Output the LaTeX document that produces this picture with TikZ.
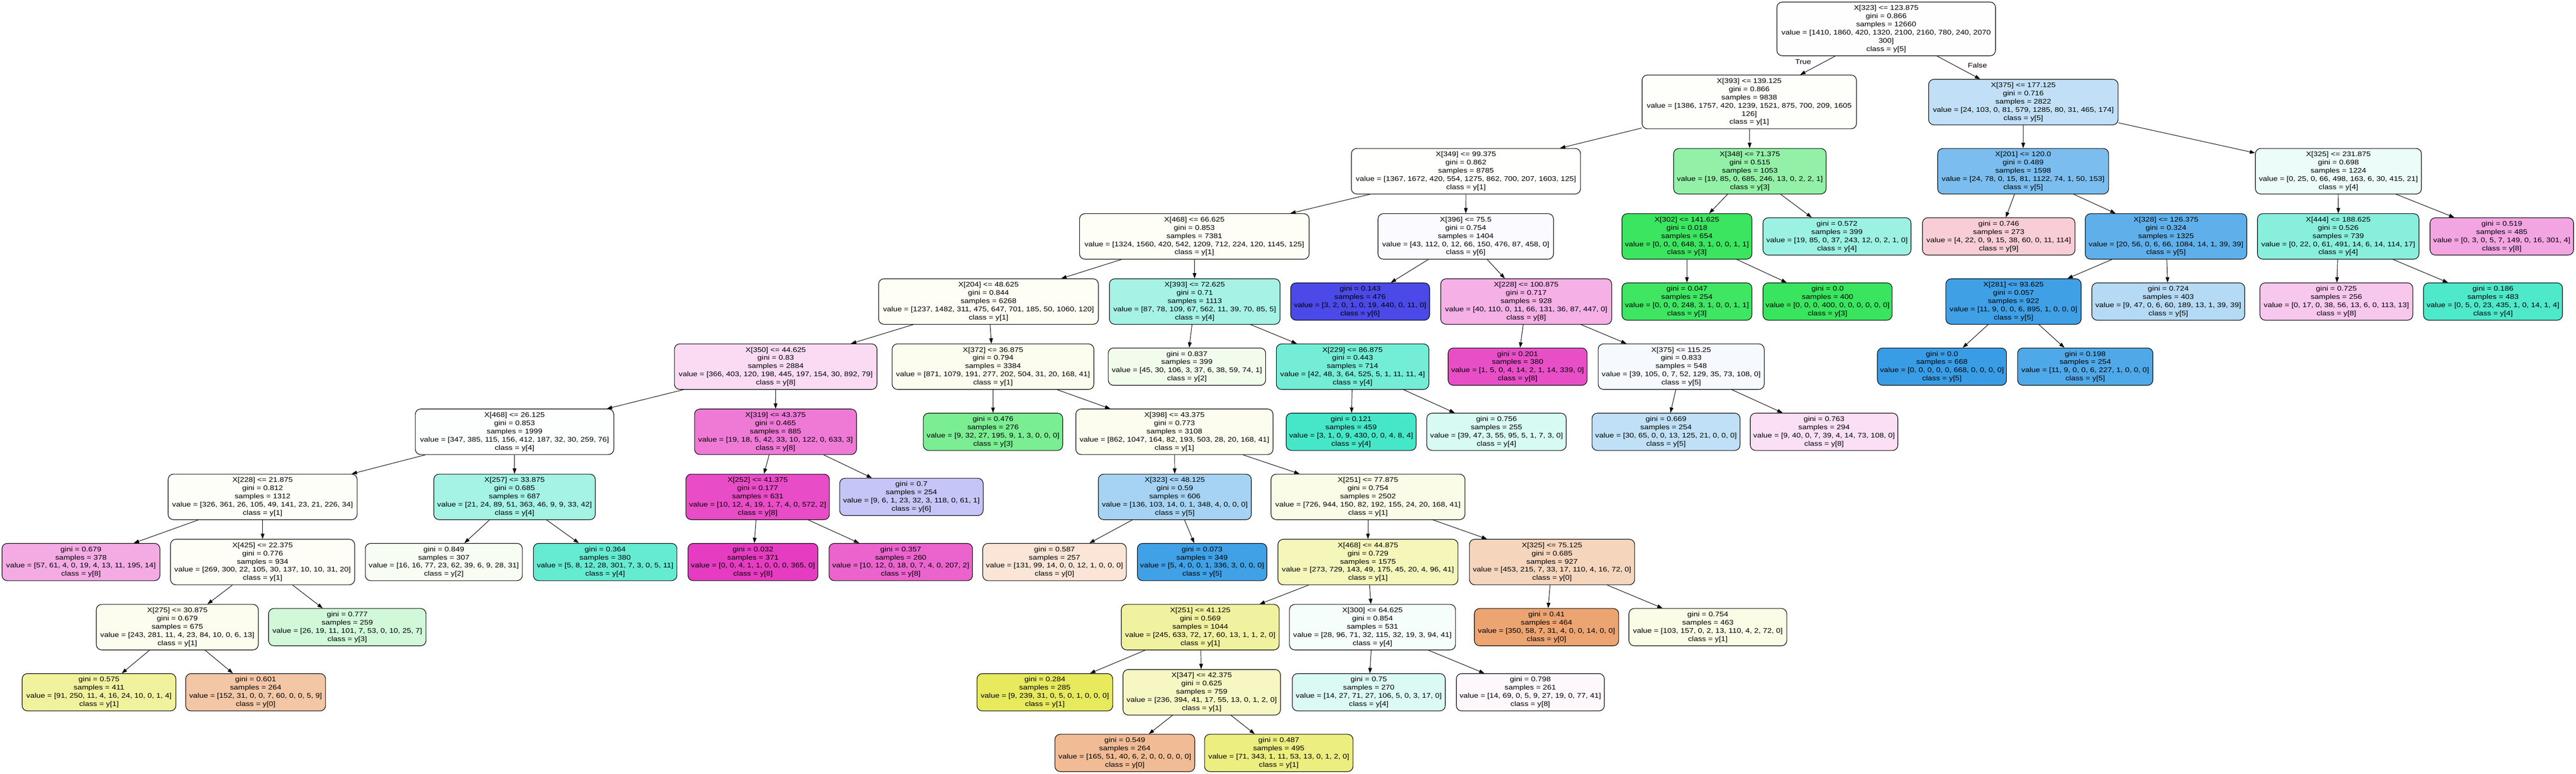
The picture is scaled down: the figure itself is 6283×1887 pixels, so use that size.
\documentclass[tikz,border=0pt]{standalone}
\usepackage{fontspec}
\setmainfont{Liberation Sans}[FakeStretch=1.17]
\usetikzlibrary{arrows.meta}
\definecolor{c0}{RGB}{229,129,57}
\definecolor{c1}{RGB}{226,229,57}
\definecolor{c2}{RGB}{123,229,57}
\definecolor{c3}{RGB}{57,229,94}
\definecolor{c4}{RGB}{57,229,197}
\definecolor{c5}{RGB}{57,157,229}
\definecolor{c6}{RGB}{60,57,229}
\definecolor{c7}{RGB}{163,57,229}
\definecolor{c8}{RGB}{229,57,192}
\definecolor{c9}{RGB}{229,57,88}
\newcommand\nodefont{\fontsize{16.4pt}{20pt}\selectfont}
\tikzset{
  box/.style={draw=black, line width=1.4pt, rounded corners=13pt, inner sep=0pt, align=center, font=\nodefont, text=black},
  intn/.style={minimum height=111pt},
  leafn/.style={minimum height=91pt},
  bign/.style={minimum height=131pt},
  cl/.style n args={4}{/utils/exec={\pgfmathsetmacro\mixp{100*((#2-#3)/(#4-#3))}\colorlet{tmpfill}{c#1!\mixp!white}}, fill=tmpfill},
  conn/.style={draw=black, line width=1.2pt, -{Triangle[length=13pt,width=9pt]}},
  lbl/.style={font=\nodefont, text=black, inner sep=0pt}
}
\begin{document}
\begin{tikzpicture}[x=1pt,y=-1pt]
\fill[white] (0,0) rectangle (6283,1887);
\useasboundingbox (0,0) rectangle (6283,1887);
% level 0
\node[box,bign,cl={5}{2160}{2100}{12660},minimum width=533pt] (n0) at (4600.5,70.5) {X[323] <= 123.875\\gini = 0.866\\samples = 12660\\value = [1410, 1860, 420, 1320, 2100, 2160, 780, 240, 2070\\300]\\class = y[5]};
% level 1
\node[box,bign,cl={1}{1757}{1605}{9838},minimum width=523pt] (n1) at (4266.5,248.5) {X[393] <= 139.125\\gini = 0.866\\samples = 9838\\value = [1386, 1757, 420, 1239, 1521, 875, 700, 209, 1605\\126]\\class = y[1]};
\node[box,intn,cl={5}{1285}{579}{2822},minimum width=462pt] (n2) at (4935,249) {X[375] <= 177.125\\gini = 0.716\\samples = 2822\\value = [24, 103, 0, 81, 579, 1285, 80, 31, 465, 174]\\class = y[5]};
% level 2
\node[box,intn,cl={1}{1672}{1603}{8785},minimum width=559pt] (n3) at (3575.5,417.5) {X[349] <= 99.375\\gini = 0.862\\samples = 8785\\value = [1367, 1672, 420, 554, 1275, 862, 700, 207, 1603, 125]\\class = y[1]};
\node[box,intn,cl={3}{685}{246}{1053},minimum width=372pt] (n4) at (4268,417.5) {X[348] <= 71.375\\gini = 0.515\\samples = 1053\\value = [19, 85, 0, 685, 246, 13, 0, 2, 2, 1]\\class = y[3]};
\node[box,intn,cl={5}{1122}{153}{1598},minimum width=417pt] (n5) at (4934.5,417.5) {X[201] <= 120.0\\gini = 0.489\\samples = 1598\\value = [24, 78, 0, 15, 81, 1122, 74, 1, 50, 153]\\class = y[5]};
\node[box,intn,cl={4}{498}{415}{1224},minimum width=405pt] (n6) at (5703.5,417.5) {X[325] <= 231.875\\gini = 0.698\\samples = 1224\\value = [0, 25, 0, 66, 498, 163, 6, 30, 415, 21]\\class = y[4]};
% level 3
\node[box,intn,cl={1}{1560}{1324}{7381},minimum width=560pt] (n7) at (2913,576.5) {X[468] <= 66.625\\gini = 0.853\\samples = 7381\\value = [1324, 1560, 420, 542, 1209, 712, 224, 120, 1145, 125]\\class = y[1]};
\node[box,intn,cl={6}{476}{458}{1404},minimum width=428pt] (n8) at (3575,576.5) {X[396] <= 75.5\\gini = 0.754\\samples = 1404\\value = [43, 112, 0, 12, 66, 150, 476, 87, 458, 0]\\class = y[6]};
\node[box,intn,cl={3}{648}{3}{654},minimum width=317pt] (n9) at (4114.5,576.5) {X[302] <= 141.625\\gini = 0.018\\samples = 654\\value = [0, 0, 0, 648, 3, 1, 0, 0, 1, 1]\\class = y[3]};
\node[box,leafn,cl={4}{243}{85}{399},minimum width=361pt] (n10) at (4480.5,576.5) {gini = 0.572\\samples = 399\\value = [19, 85, 0, 37, 243, 12, 0, 2, 1, 0]\\class = y[4]};
\node[box,leafn,cl={9}{114}{60}{273},minimum width=372pt] (n11) at (4875,576.5) {gini = 0.746\\samples = 273\\value = [4, 22, 0, 9, 15, 38, 60, 0, 11, 114]\\class = y[9]};
\node[box,intn,cl={5}{1084}{66}{1325},minimum width=394pt] (n12) at (5283,576.5) {X[328] <= 126.375\\gini = 0.324\\samples = 1325\\value = [20, 56, 0, 6, 66, 1084, 14, 1, 39, 39]\\class = y[5]};
\node[box,intn,cl={4}{491}{114}{739},minimum width=394pt] (n13) at (5703,576.5) {X[444] <= 188.625\\gini = 0.526\\samples = 739\\value = [0, 22, 0, 61, 491, 14, 6, 14, 114, 17]\\class = y[4]};
\node[box,leafn,cl={8}{301}{149}{485},minimum width=350pt] (n14) at (6102,576.5) {gini = 0.519\\samples = 485\\value = [0, 3, 0, 5, 7, 149, 0, 16, 301, 4]\\class = y[8]};
% level 4
\node[box,intn,cl={1}{1482}{1237}{6268},minimum width=536pt] (n15) at (2411,735.3) {X[204] <= 48.625\\gini = 0.844\\samples = 6268\\value = [1237, 1482, 311, 475, 647, 701, 185, 50, 1060, 120]\\class = y[1]};
\node[box,intn,cl={4}{562}{109}{1113},minimum width=416pt] (n16) at (2914,735.3) {X[393] <= 72.625\\gini = 0.71\\samples = 1113\\value = [87, 78, 109, 67, 562, 11, 39, 70, 85, 5]\\class = y[4]};
\node[box,leafn,cl={6}{440}{19}{476},minimum width=339pt] (n17) at (3317.5,735.3) {gini = 0.143\\samples = 476\\value = [3, 2, 0, 1, 0, 19, 440, 0, 11, 0]\\class = y[6]};
\node[box,intn,cl={8}{447}{131}{928},minimum width=417pt] (n18) at (3722.5,735.3) {X[228] <= 100.875\\gini = 0.717\\samples = 928\\value = [40, 110, 0, 11, 66, 131, 36, 87, 447, 0]\\class = y[8]};
\node[box,leafn,cl={3}{248}{3}{254},minimum width=317pt] (n19) at (4114.5,735.3) {gini = 0.047\\samples = 254\\value = [0, 0, 0, 248, 3, 1, 0, 0, 1, 1]\\class = y[3]};
\node[box,leafn,cl={3}{400}{0}{400},minimum width=315pt] (n20) at (4457.5,735.3) {gini = 0.0\\samples = 400\\value = [0, 0, 0, 400, 0, 0, 0, 0, 0, 0]\\class = y[3]};
\node[box,intn,cl={5}{895}{11}{922},minimum width=330pt] (n21) at (4911,735.3) {X[281] <= 93.625\\gini = 0.057\\samples = 922\\value = [11, 9, 0, 0, 6, 895, 1, 0, 0, 0]\\class = y[5]};
\node[box,leafn,cl={5}{189}{60}{403},minimum width=373pt] (n22) at (5288.5,735.3) {gini = 0.724\\samples = 403\\value = [9, 47, 0, 6, 60, 189, 13, 1, 39, 39]\\class = y[5]};
\node[box,leafn,cl={8}{113}{56}{256},minimum width=373pt] (n23) at (5698.5,735.3) {gini = 0.725\\samples = 256\\value = [0, 17, 0, 38, 56, 13, 6, 0, 113, 13]\\class = y[8]};
\node[box,leafn,cl={4}{435}{23}{483},minimum width=339pt] (n24) at (6080.5,735.3) {gini = 0.186\\samples = 483\\value = [0, 5, 0, 23, 435, 1, 0, 14, 1, 4]\\class = y[4]};
% level 5
\node[box,intn,cl={8}{892}{445}{2884},minimum width=494pt] (n25) at (1892,894.1) {X[350] <= 44.625\\gini = 0.83\\samples = 2884\\value = [366, 403, 120, 198, 445, 197, 154, 30, 892, 79]\\class = y[8]};
\node[box,intn,cl={1}{1079}{871}{3384},minimum width=492pt] (n26) at (2422,894.1) {X[372] <= 36.875\\gini = 0.794\\samples = 3384\\value = [871, 1079, 191, 277, 202, 504, 31, 20, 168, 41]\\class = y[1]};
\node[box,leafn,cl={2}{106}{74}{399},minimum width=384pt] (n27) at (2895,894.1) {gini = 0.837\\samples = 399\\value = [45, 30, 106, 3, 37, 6, 38, 59, 74, 1]\\class = y[2]};
\node[box,intn,cl={4}{525}{64}{714},minimum width=372pt] (n28) at (3299,894.1) {X[229] <= 86.875\\gini = 0.443\\samples = 714\\value = [42, 48, 3, 64, 525, 5, 1, 11, 11, 4]\\class = y[4]};
\node[box,leafn,cl={8}{339}{14}{380},minimum width=339pt] (n29) at (3701.5,894.1) {gini = 0.201\\samples = 380\\value = [1, 5, 0, 4, 14, 2, 1, 14, 339, 0]\\class = y[8]};
\node[box,intn,cl={5}{129}{108}{548},minimum width=405pt] (n30) at (4100.5,894.1) {X[375] <= 115.25\\gini = 0.833\\samples = 548\\value = [39, 105, 0, 7, 52, 129, 35, 73, 108, 0]\\class = y[5]};
\node[box,leafn,cl={5}{668}{0}{668},minimum width=315pt] (n31) at (4736.5,894.1) {gini = 0.0\\samples = 668\\value = [0, 0, 0, 0, 0, 668, 0, 0, 0, 0]\\class = y[5]};
\node[box,leafn,cl={5}{227}{11}{254},minimum width=330pt] (n32) at (5086,894.1) {gini = 0.198\\samples = 254\\value = [11, 9, 0, 0, 6, 227, 1, 0, 0, 0]\\class = y[5]};
% level 6
\node[box,intn,cl={4}{412}{385}{1999},minimum width=484pt] (n33) at (1255,1052.9) {X[468] <= 26.125\\gini = 0.853\\samples = 1999\\value = [347, 385, 115, 156, 412, 187, 32, 30, 259, 76]\\class = y[4]};
\node[box,intn,cl={8}{633}{122}{885},minimum width=395pt] (n34) at (1891.5,1052.9) {X[319] <= 43.375\\gini = 0.465\\samples = 885\\value = [19, 18, 5, 42, 33, 10, 122, 0, 633, 3]\\class = y[8]};
\node[box,leafn,cl={3}{195}{32}{276},minimum width=340pt] (n35) at (2422,1052.9) {gini = 0.476\\samples = 276\\value = [9, 32, 27, 195, 9, 1, 3, 0, 0, 0]\\class = y[3]};
\node[box,intn,cl={1}{1047}{862}{3108},minimum width=481pt] (n36) at (2864.5,1052.9) {X[398] <= 43.375\\gini = 0.773\\samples = 3108\\value = [862, 1047, 164, 82, 193, 503, 28, 20, 168, 41]\\class = y[1]};
\node[box,leafn,cl={4}{430}{9}{459},minimum width=317pt] (n37) at (3295.5,1052.9) {gini = 0.121\\samples = 459\\value = [3, 1, 0, 9, 430, 0, 0, 4, 8, 4]\\class = y[4]};
\node[box,leafn,cl={4}{95}{55}{255},minimum width=340pt] (n38) at (3650,1052.9) {gini = 0.756\\samples = 255\\value = [39, 47, 3, 55, 95, 5, 1, 7, 3, 0]\\class = y[4]};
\node[box,leafn,cl={5}{125}{65}{254},minimum width=361pt] (n39) at (4063.5,1052.9) {gini = 0.669\\samples = 254\\value = [30, 65, 0, 0, 13, 125, 21, 0, 0, 0]\\class = y[5]};
\node[box,leafn,cl={8}{108}{73}{294},minimum width=360pt] (n40) at (4449,1052.9) {gini = 0.763\\samples = 294\\value = [9, 40, 0, 7, 39, 4, 14, 73, 108, 0]\\class = y[8]};
% level 7
\node[box,intn,cl={1}{361}{326}{1312},minimum width=461pt] (n41) at (640.5,1211.7) {X[228] <= 21.875\\gini = 0.812\\samples = 1312\\value = [326, 361, 26, 105, 49, 141, 23, 21, 226, 34]\\class = y[1]};
\node[box,intn,cl={4}{363}{89}{687},minimum width=394pt] (n42) at (1255,1211.7) {X[257] <= 33.875\\gini = 0.685\\samples = 687\\value = [21, 24, 89, 51, 363, 46, 9, 9, 33, 42]\\class = y[4]};
\node[box,intn,cl={8}{572}{19}{631},minimum width=350pt] (n43) at (1848,1211.7) {X[252] <= 41.375\\gini = 0.177\\samples = 631\\value = [10, 12, 4, 19, 1, 7, 4, 0, 572, 2]\\class = y[8]};
\node[box,leafn,cl={6}{118}{61}{254},minimum width=350pt] (n44) at (2223,1211.7) {gini = 0.7\\samples = 254\\value = [9, 6, 1, 23, 32, 3, 118, 0, 61, 1]\\class = y[6]};
\node[box,intn,cl={5}{348}{136}{606},minimum width=373pt] (n45) at (2865.5,1211.7) {X[323] <= 48.125\\gini = 0.59\\samples = 606\\value = [136, 103, 14, 0, 1, 348, 4, 0, 0, 0]\\class = y[5]};
\node[box,intn,cl={1}{944}{726}{2502},minimum width=473pt] (n46) at (3336.5,1211.7) {X[251] <= 77.875\\gini = 0.754\\samples = 2502\\value = [726, 944, 150, 82, 192, 155, 24, 20, 168, 41]\\class = y[1]};
% level 8
\node[box,leafn,cl={8}{195}{61}{378},minimum width=385pt] (n47) at (197.5,1370.5) {gini = 0.679\\samples = 378\\value = [57, 61, 4, 0, 19, 4, 13, 11, 195, 14]\\class = y[8]};
\node[box,intn,cl={1}{300}{269}{934},minimum width=449pt] (n48) at (640.5,1370.5) {X[425] <= 22.375\\gini = 0.776\\samples = 934\\value = [269, 300, 22, 105, 30, 137, 10, 10, 31, 20]\\class = y[1]};
\node[box,leafn,cl={2}{77}{62}{307},minimum width=383pt] (n49) at (1082.5,1370.5) {gini = 0.849\\samples = 307\\value = [16, 16, 77, 23, 62, 39, 6, 9, 28, 31]\\class = y[2]};
\node[box,leafn,cl={4}{301}{28}{380},minimum width=350pt] (n50) at (1476,1370.5) {gini = 0.364\\samples = 380\\value = [5, 8, 12, 28, 301, 7, 3, 0, 5, 11]\\class = y[4]};
\node[box,leafn,cl={8}{365}{4}{371},minimum width=317pt] (n51) at (1836.5,1370.5) {gini = 0.032\\samples = 371\\value = [0, 0, 4, 1, 1, 0, 0, 0, 365, 0]\\class = y[8]};
\node[box,leafn,cl={8}{207}{18}{260},minimum width=350pt] (n52) at (2197,1370.5) {gini = 0.357\\samples = 260\\value = [10, 12, 0, 18, 0, 7, 4, 0, 207, 2]\\class = y[8]};
\node[box,leafn,cl={0}{131}{99}{257},minimum width=350pt] (n53) at (2572,1370.5) {gini = 0.587\\samples = 257\\value = [131, 99, 14, 0, 0, 12, 1, 0, 0, 0]\\class = y[0]};
\node[box,leafn,cl={5}{336}{5}{349},minimum width=316pt] (n54) at (2932,1370.5) {gini = 0.073\\samples = 349\\value = [5, 4, 0, 0, 1, 336, 3, 0, 0, 0]\\class = y[5]};
\node[box,intn,cl={1}{729}{273}{1575},minimum width=439pt] (n55) at (3336.5,1370.5) {X[468] <= 44.875\\gini = 0.729\\samples = 1575\\value = [273, 729, 143, 49, 175, 45, 20, 4, 96, 41]\\class = y[1]};
\node[box,intn,cl={0}{453}{215}{927},minimum width=403pt] (n56) at (3785.5,1370.5) {X[325] <= 75.125\\gini = 0.685\\samples = 927\\value = [453, 215, 7, 33, 17, 110, 4, 16, 72, 0]\\class = y[0]};
% level 9
\node[box,intn,cl={1}{281}{243}{675},minimum width=395pt] (n57) at (432.5,1529.3) {X[275] <= 30.875\\gini = 0.679\\samples = 675\\value = [243, 281, 11, 4, 23, 84, 10, 0, 6, 13]\\class = y[1]};
\node[box,leafn,cl={3}{101}{53}{259},minimum width=384pt] (n58) at (847,1529.3) {gini = 0.777\\samples = 259\\value = [26, 19, 11, 101, 7, 53, 0, 10, 25, 7]\\class = y[3]};
\node[box,intn,cl={1}{633}{245}{1044},minimum width=385pt] (n59) at (2927.5,1529.3) {X[251] <= 41.125\\gini = 0.569\\samples = 1044\\value = [245, 633, 72, 17, 60, 13, 1, 1, 2, 0]\\class = y[1]};
\node[box,intn,cl={4}{115}{96}{531},minimum width=405pt] (n60) at (3347.5,1529.3) {X[300] <= 64.625\\gini = 0.854\\samples = 531\\value = [28, 96, 71, 32, 115, 32, 19, 3, 94, 41]\\class = y[4]};
\node[box,leafn,cl={0}{350}{58}{464},minimum width=352pt] (n61) at (3772,1529.3) {gini = 0.41\\samples = 464\\value = [350, 58, 7, 31, 4, 0, 0, 14, 0, 0]\\class = y[0]};
\node[box,leafn,cl={1}{157}{110}{463},minimum width=385pt] (n62) at (4165.5,1529.3) {gini = 0.754\\samples = 463\\value = [103, 157, 0, 2, 13, 110, 4, 2, 72, 0]\\class = y[1]};
% level 10
\node[box,leafn,cl={1}{250}{91}{411},minimum width=375pt] (n63) at (241.5,1688.1) {gini = 0.575\\samples = 411\\value = [91, 250, 11, 4, 16, 24, 10, 0, 1, 4]\\class = y[1]};
\node[box,leafn,cl={0}{152}{60}{264},minimum width=341pt] (n64) at (623.5,1688.1) {gini = 0.601\\samples = 264\\value = [152, 31, 0, 0, 7, 60, 0, 0, 5, 9]\\class = y[0]};
\node[box,leafn,cl={1}{239}{31}{285},minimum width=331pt] (n65) at (2548.5,1688.1) {gini = 0.284\\samples = 285\\value = [9, 239, 31, 0, 5, 0, 1, 0, 0, 0]\\class = y[1]};
\node[box,intn,cl={1}{394}{236}{759},minimum width=384pt] (n66) at (2931,1688.1) {X[347] <= 42.375\\gini = 0.625\\samples = 759\\value = [236, 394, 41, 17, 55, 13, 0, 1, 2, 0]\\class = y[1]};
\node[box,leafn,cl={4}{106}{71}{270},minimum width=373pt] (n67) at (3338.5,1688.1) {gini = 0.75\\samples = 270\\value = [14, 27, 71, 27, 106, 5, 0, 3, 17, 0]\\class = y[4]};
\node[box,leafn,cl={8}{77}{69}{261},minimum width=361pt] (n68) at (3732.5,1688.1) {gini = 0.798\\samples = 261\\value = [14, 69, 0, 5, 9, 27, 19, 0, 77, 41]\\class = y[8]};
% level 11
\node[box,leafn,cl={0}{165}{51}{264},minimum width=341pt] (n69) at (2743.5,1836) {gini = 0.549\\samples = 264\\value = [165, 51, 40, 6, 2, 0, 0, 0, 0, 0]\\class = y[0]};
\node[box,leafn,cl={1}{343}{71}{495},minimum width=362pt] (n70) at (3119,1836) {gini = 0.487\\samples = 495\\value = [71, 343, 1, 11, 53, 13, 0, 1, 2, 0]\\class = y[1]};
% edge labels
\node[lbl] (ltrue) at (4398,151) {True};
\node[lbl] (lfalse) at (4823,160) {False};
% connectors
\foreach \a/\b in {n0/n1,n0/n2,n1/n3,n1/n4,n2/n5,n2/n6,n3/n7,n3/n8,n4/n9,n4/n10,n5/n11,n5/n12,n6/n13,n6/n14,
  n7/n15,n7/n16,n8/n17,n8/n18,n9/n19,n9/n20,n12/n21,n12/n22,n13/n23,n13/n24,
  n15/n25,n15/n26,n16/n27,n16/n28,n18/n29,n18/n30,n21/n31,n21/n32,
  n25/n33,n25/n34,n26/n35,n26/n36,n28/n37,n28/n38,n30/n39,n30/n40,
  n33/n41,n33/n42,n34/n43,n34/n44,n36/n45,n36/n46,
  n41/n47,n41/n48,n42/n49,n42/n50,n43/n51,n43/n52,n45/n53,n45/n54,n46/n55,n46/n56,
  n48/n57,n48/n58,n55/n59,n55/n60,n56/n61,n56/n62,
  n57/n63,n57/n64,n59/n65,n59/n66,n60/n67,n60/n68,n66/n69,n66/n70}
  {\draw[conn] (\a) -- (\b);}
\end{tikzpicture}
\end{document}
